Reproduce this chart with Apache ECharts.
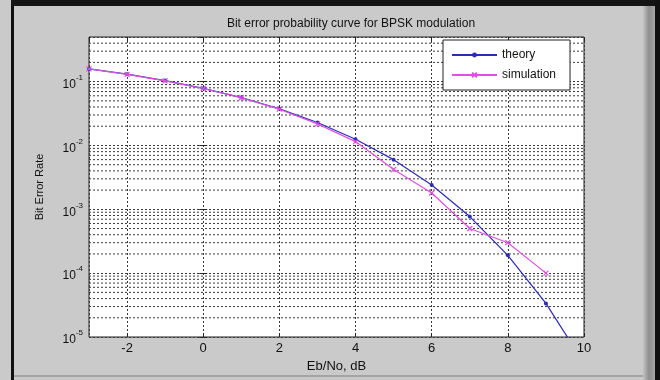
<!DOCTYPE html>
<html><head><meta charset="utf-8">
<script src="https://cdn.jsdelivr.net/npm/echarts@6/dist/echarts.min.js"></script>
<style>html,body{margin:0;padding:0;background:#cacaca}#c{width:660px;height:380px}</style>
</head><body><div id="c"></div>
<script>
const ebno = [-3,-2,-1,0,1,2,3,4,5,6,7,8,9,10];
const theory = [0.158,0.131,0.104,0.0786,0.0563,0.0375,0.0229,0.0125,0.0060,0.0024,0.00077,0.00019,0.0000336,0.0000039];
const simulation = [0.158,0.130,0.103,0.078,0.056,0.037,0.0218,0.0115,0.0042,0.0018,0.0005,0.0003,0.0001];
const xTickLabels = ['-2','0','2','4','6','8','10'];
const yTickLabels = ['10^-5','10^-4','10^-3','10^-2','10^-1'];

const xMin = -3, xMax = 10, yMin = 1e-5, yMax = 0.5;

// minor (2..9 x 10^k) horizontal grid lines of the log axis
const minorGrid = [];
for (let k = -5; k <= -1; k++) {
  for (let m = 2; m <= 9; m++) {
    const v = m * Math.pow(10, k);
    if (v < yMax) minorGrid.push(v);
  }
}
const minorSegs = [];
minorGrid.forEach(v => { minorSegs.push([xMin, v], [xMax, v], ['-', '-']); });

const gridColor = '#3a3a3a';
const chart = echarts.init(document.getElementById('c'));
const font = 'Liberation Sans, Arial, sans-serif';

function yLabel(v) {
  const lg = Math.log10(v);
  const e = Math.round(lg);
  if (Math.abs(lg - e) > 1e-6) return '';
  return '{b|10}{s|' + e + '}';
}

chart.setOption({
  backgroundColor: '#cacaca',
  animation: false,
  textStyle: { fontFamily: font },
  title: {
    text: 'Bit error probability curve for BPSK modulation',
    left: 346, top: 13, textAlign: 'center',
    textStyle: { fontSize: 12, fontWeight: 'normal', color: '#111', fontFamily: font }
  },
  graphic: [
    { type: 'rect', shape: { x: 11, y: 0, width: 3, height: 380 }, style: { fill: '#111' }, silent: true },
    { type: 'rect', shape: { x: 11, y: 0, width: 649, height: 6 }, style: { fill: '#151515' }, silent: true },
    { type: 'rect', shape: { x: 643, y: 6, width: 12, height: 374 }, style: { fill: new echarts.graphic.LinearGradient(0,0,1,0,[{offset:0,color:'#c4c4c4'},{offset:0.5,color:'#8e8e8e'},{offset:1,color:'#a8a8a8'}]) }, silent: true },
    { type: 'rect', shape: { x: 655, y: 0, width: 5, height: 380 }, style: { fill: '#111' }, silent: true },
    { type: 'rect', shape: { x: 14, y: 375, width: 629, height: 2 }, style: { fill: '#a4a4a4' }, silent: true }
  ],
  grid: {
    left: 89, right: 76, top: 37, bottom: 43,
    show: true, backgroundColor: '#ffffff', borderColor: '#222', borderWidth: 1
  },
  legend: {
    data: ['theory', 'simulation'], z: 20,
    orient: 'vertical', left: 443, top: 40,
    itemWidth: 45, itemHeight: 6, itemGap: 8,
    padding: [9, 14, 9, 8],
    backgroundColor: '#ffffff', borderColor: '#222', borderWidth: 1, borderRadius: 0,
    textStyle: { fontSize: 12, color: '#111', fontFamily: font }
  },
  xAxis: [{
    type: 'value', min: xMin, max: xMax, splitNumber: 6,
    name: 'Eb/No, dB', nameLocation: 'middle', nameGap: 18,
    nameTextStyle: { fontSize: 13, color: '#111', fontFamily: font },
    axisLine: { show: false },
    axisTick: { show: true, inside: true, length: 4, lineStyle: { color: '#222' } },
    axisLabel: { showMinLabel: false, margin: 5, fontSize: 13, color: '#111',
      formatter: v => xTickLabels.indexOf(String(v)) >= 0 ? String(v) : '' },
    splitLine: { show: true, lineStyle: { color: gridColor, type: [2, 2], width: 1 } }
  }, {
    type: 'value', min: xMin, max: xMax, splitNumber: 6, position: 'top',
    axisLine: { show: false },
    axisTick: { show: true, inside: true, length: 4, lineStyle: { color: '#222' } },
    axisLabel: { show: false }, splitLine: { show: false }
  }],
  yAxis: [{
    type: 'log', logBase: 10, min: yMin, max: yMax,
    name: 'Bit Error Rate', nameLocation: 'middle', nameGap: 44,
    nameTextStyle: { fontSize: 11, color: '#111', fontFamily: font },
    axisLine: { show: false },
    axisTick: { show: true, inside: true, length: 4, lineStyle: { color: '#222' } },
    axisLabel: {
      showMaxLabel: false, margin: 6, formatter: yLabel,
      rich: {
        b: { fontSize: 12, color: '#111', fontFamily: font, padding: [6, 0, 0, 0] },
        s: { fontSize: 8, color: '#111', fontFamily: font, padding: [0, 0, 8, 0] }
      }
    },
    splitLine: { show: true, lineStyle: { color: gridColor, type: [2, 2], width: 1 } }
  }, {
    type: 'log', logBase: 10, min: yMin, max: yMax, position: 'right',
    axisLine: { show: false },
    axisTick: { show: true, inside: true, length: 4, lineStyle: { color: '#222' } },
    axisLabel: { show: false }, splitLine: { show: false }
  }],
  series: [
    {
      name: 'minorGrid', type: 'line', z: 1, silent: true,
      data: minorSegs, connectNulls: false, showSymbol: false, symbol: 'none',
      lineStyle: { color: gridColor, type: [2, 2], width: 1 },
      emphasis: { disabled: true }, tooltip: { show: false }
    },
    {
      name: 'theory', type: 'line', z: 3,
      data: ebno.map((x, i) => [x, theory[i]]),
      symbol: 'circle', symbolSize: 4,
      lineStyle: { color: '#2b2bb8', width: 1.2 },
      itemStyle: { color: '#2b2bb8' }
    },
    {
      name: 'simulation', type: 'line', z: 4,
      data: simulation.map((y, i) => [ebno[i], y]),
      symbol: 'path://M0,0L10,10M10,0L0,10', symbolSize: 5,
      lineStyle: { color: '#e050e0', width: 1.2 },
      itemStyle: { color: '#e050e0', borderColor: '#e050e0', borderWidth: 1.2 }
    }
  ]
});
</script></body></html>
